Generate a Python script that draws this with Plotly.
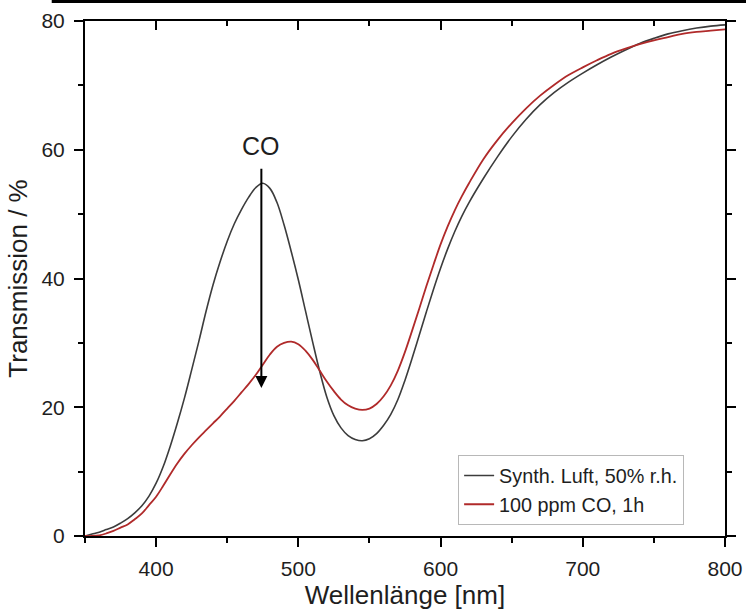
import plotly.graph_objects as go

# ---- data ----
wl_air = [350, 355, 360, 365, 370, 375, 380, 385, 390, 395, 400, 405, 410, 415, 420, 425,
          430, 435, 440, 445, 450, 455, 460, 465, 470, 475, 480, 485, 490, 495, 500, 505,
          510, 515, 520, 525, 530, 535, 540, 545, 550, 555, 560, 565, 570, 575, 580, 585,
          590, 595, 600, 605, 610, 615, 620, 630, 640, 650, 660, 670, 680, 690, 700, 710,
          720, 730, 740, 750, 760, 770, 780, 790, 800]
t_air = [0.0, 0.3, 0.6, 1.0, 1.4, 2.0, 2.7, 3.6, 4.7, 6.2, 8.2, 10.8, 14.0, 17.6, 21.5, 25.8,
         30.2, 34.8, 39.0, 42.6, 45.8, 48.5, 50.7, 52.6, 54.1, 54.8, 54.0, 51.8, 48.3, 44.2, 39.8, 35.0,
         30.2, 25.6, 21.6, 18.7, 16.8, 15.6, 15.0, 14.8, 15.1, 15.9, 17.2, 18.9, 21.2, 24.2, 27.6, 31.2,
         34.8, 38.3, 41.6, 44.6, 47.3, 49.7, 51.8, 55.5, 58.9, 62.0, 64.7, 67.0, 68.9, 70.5, 71.9, 73.2,
         74.4, 75.5, 76.5, 77.3, 78.0, 78.5, 78.9, 79.2, 79.4]

wl_co = [350, 355, 360, 365, 370, 375, 380, 385, 390, 395, 400, 405, 410, 415, 420, 425,
         430, 435, 440, 445, 450, 455, 460, 465, 470, 475, 480, 485, 490, 495, 500, 505,
         510, 515, 520, 525, 530, 535, 540, 545, 550, 555, 560, 565, 570, 575, 580, 585,
         590, 595, 600, 605, 610, 615, 620, 630, 640, 650, 660, 670, 680, 690, 700, 710,
         720, 730, 740, 750, 760, 770, 780, 790, 800]
t_co = [0.0, 0.0, 0.1, 0.4, 0.8, 1.3, 1.8, 2.6, 3.5, 4.8, 6.1, 7.8, 9.6, 11.3, 12.8, 14.1,
        15.3, 16.4, 17.5, 18.6, 19.8, 21.0, 22.3, 23.6, 25.0, 26.6, 28.2, 29.4, 30.0, 30.2, 29.8, 28.8,
        27.4, 25.7, 24.0, 22.5, 21.2, 20.3, 19.8, 19.6, 19.8, 20.5, 21.7, 23.4, 25.7, 28.6, 31.9, 35.3,
        38.8, 42.1, 45.3, 48.1, 50.6, 52.8, 54.8, 58.5, 61.5, 64.1, 66.4, 68.4, 70.1, 71.6, 72.8, 73.9,
        74.9, 75.7, 76.4, 77.0, 77.5, 78.0, 78.3, 78.5, 78.7]

series_names = ["Synth. Luft, 50% r.h.", "100 ppm CO, 1h"]
x_title = "Wellenlänge [nm]"
y_title = "Transmission / %"
arrow_label = "CO"
arrow_x = 474
arrow_from = 57.3
arrow_to = 23.0

FONT = "Liberation Sans, Arial, sans-serif"
TXT = "#1e1e1e"

fig = go.Figure()
fig.add_trace(go.Scatter(x=wl_air, y=t_air, mode="lines", name=series_names[0],
                         line=dict(color="#3c3c3c", width=1.6, shape="spline", smoothing=1.0)))
fig.add_trace(go.Scatter(x=wl_co, y=t_co, mode="lines", name=series_names[1],
                         line=dict(color="#b02a2a", width=1.8, shape="spline", smoothing=1.0)))
# invisible trace to anchor the mirrored (top/right) axes
fig.add_trace(go.Scatter(x=[350, 800], y=[0, 80], xaxis="x2", yaxis="y2", mode="lines",
                         line=dict(width=0), showlegend=False, hoverinfo="skip"))

axis_common = dict(showgrid=False, zeroline=False, linecolor="black", linewidth=2,
                   tickcolor="black", tickwidth=2, ticklen=9, automargin=False,
                   tickfont=dict(family=FONT, size=21, color=TXT))
xt = dict(range=[350, 800], tick0=400, dtick=100)
yt = dict(range=[0, 80], tick0=0, dtick=20)

fig.update_layout(
    width=746, height=615,
    margin=dict(l=85, r=21, t=21, b=79),
    paper_bgcolor="white", plot_bgcolor="white",
    font=dict(family=FONT, color=TXT),
    xaxis=dict(ticks="outside", ticklabelstandoff=4,
               minor=dict(dtick=50, ticks="outside", ticklen=5, tickwidth=2, tickcolor="black"),
               title=dict(text=x_title, font=dict(family=FONT, size=26, color=TXT), standoff=6),
               **xt, **axis_common),
    yaxis=dict(ticks="outside", ticklabelstandoff=5,
               minor=dict(dtick=10, ticks="outside", ticklen=5, tickwidth=2, tickcolor="black"),
               title=dict(text=y_title, font=dict(family=FONT, size=26, color=TXT), standoff=6),
               **yt, **axis_common),
    xaxis2=dict(overlaying="x", side="top", anchor="y2", ticks="inside", showticklabels=False,
                minor=dict(dtick=50, ticks="inside", ticklen=5, tickwidth=2, tickcolor="black"),
                **xt, **axis_common),
    yaxis2=dict(overlaying="y", side="right", anchor="x2", ticks="outside", showticklabels=False,
                minor=dict(dtick=10, ticks="outside", ticklen=5, tickwidth=2, tickcolor="black"),
                **yt, **axis_common),
    legend=dict(x=0.583, y=0.157, xanchor="left", yanchor="top",
                bgcolor="white", bordercolor="#b8b8b8", borderwidth=1,
                font=dict(family=FONT, size=19.8, color=TXT),
                tracegroupgap=0, itemwidth=30),
    showlegend=True,
)

# arrow for CO
fig.add_annotation(x=arrow_x, y=arrow_to, ax=arrow_x, ay=arrow_from, xref="x", yref="y",
                   axref="x", ayref="y", text="", showarrow=True, arrowhead=2,
                   arrowsize=1.2, arrowwidth=2, arrowcolor="black")
fig.add_annotation(x=arrow_x, y=arrow_from, xref="x", yref="y", text=arrow_label,
                   showarrow=False, yanchor="bottom", yshift=5,
                   font=dict(family=FONT, size=25, color=TXT))

# cut-off frame line at the very top of the image (from the figure above)
fig.add_shape(type="line", xref="paper", yref="paper", x0=-0.052, x1=1.04, y0=1.038, y1=1.038,
              line=dict(color="black", width=3))

fig.write_html("out.html")
